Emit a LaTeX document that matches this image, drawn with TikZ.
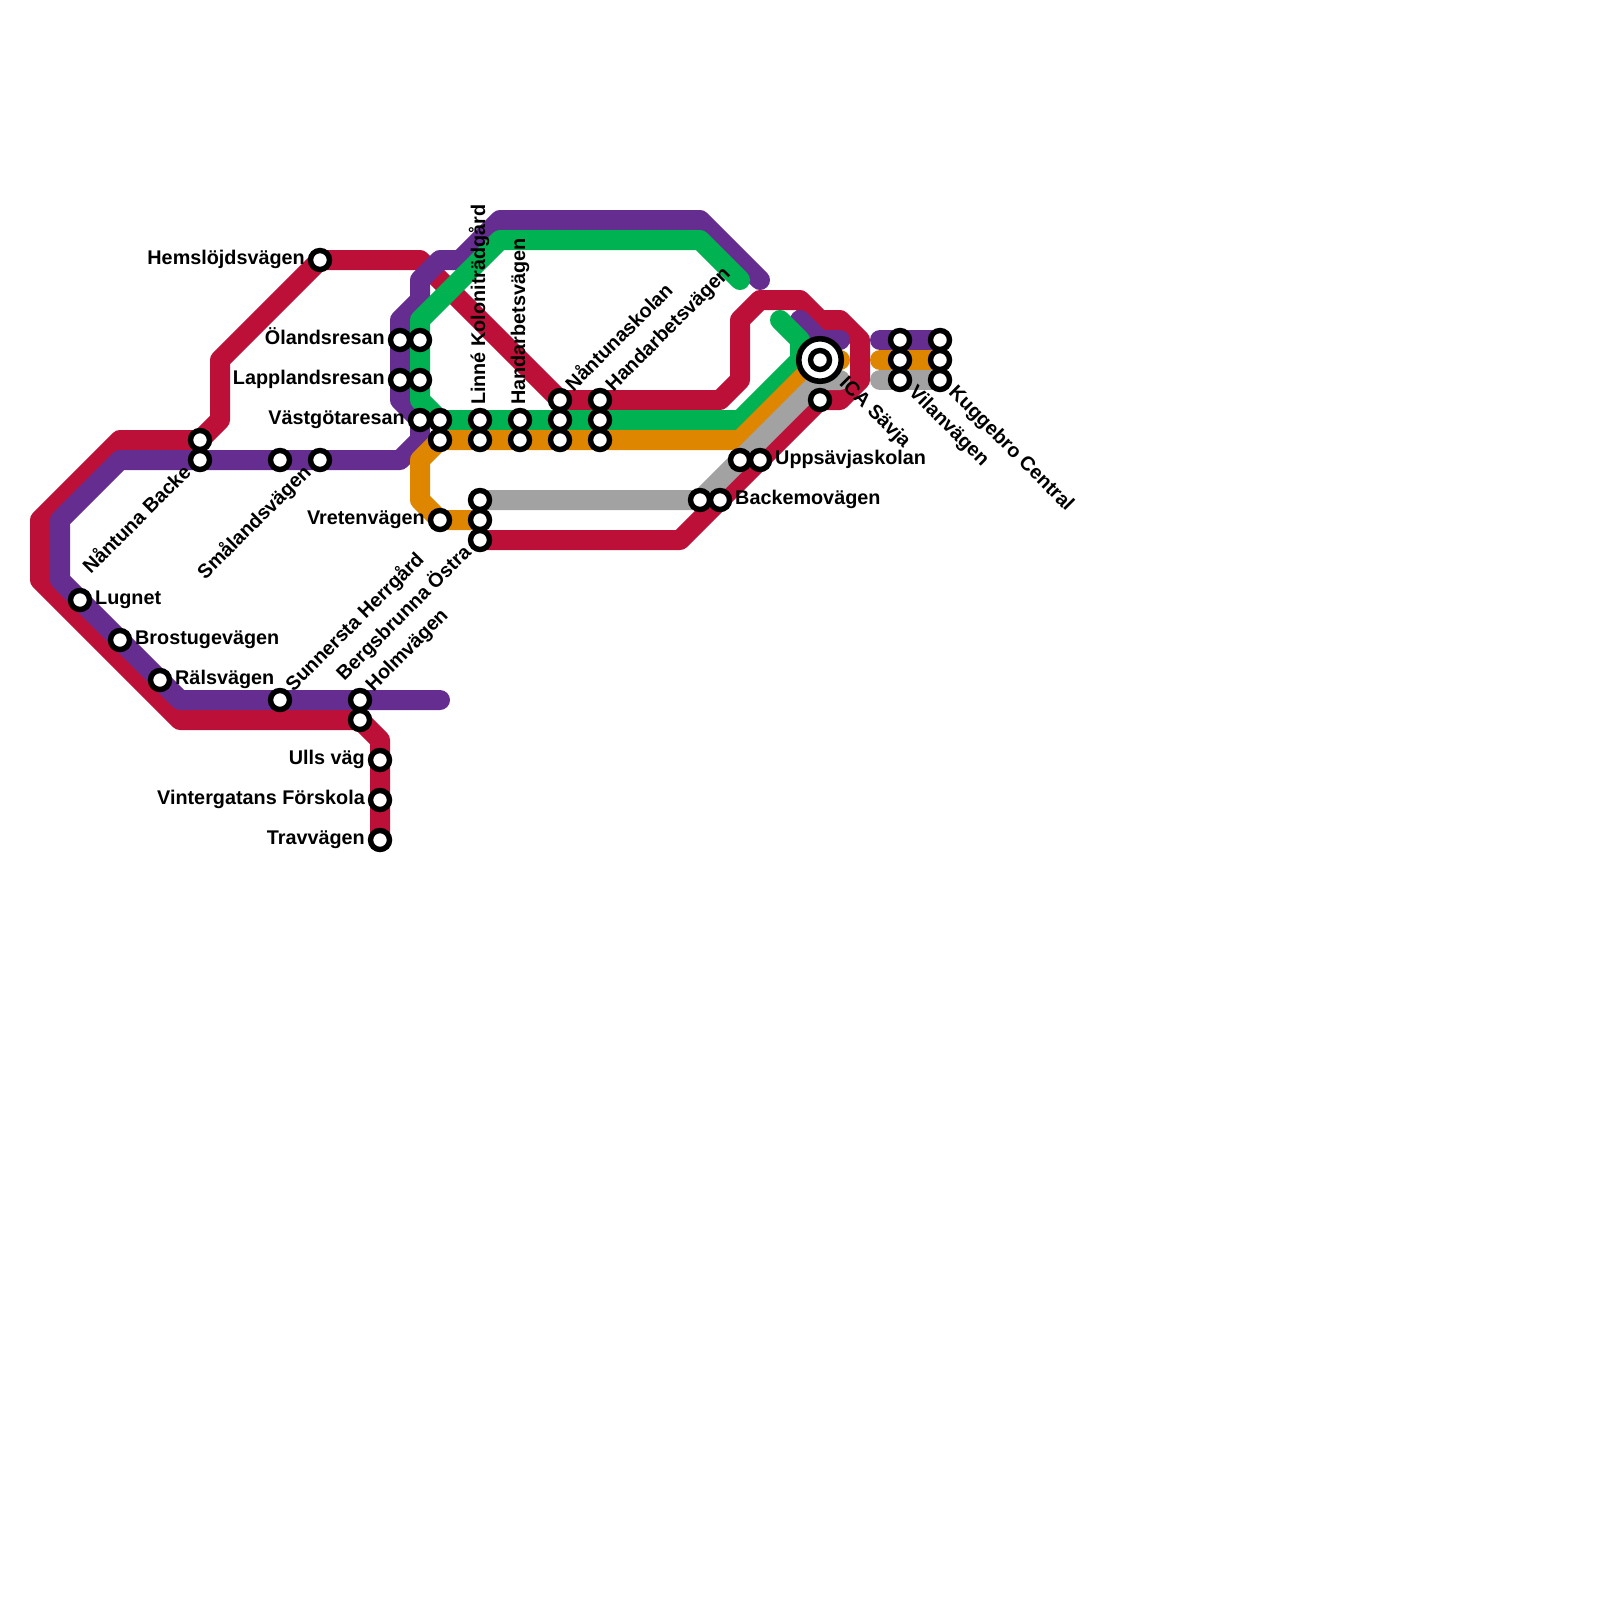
\documentclass[tikz,border=0pt]{standalone}
\usepackage{fontspec}
\setmainfont{Liberation Sans}
\usetikzlibrary{backgrounds}
\definecolor{linered}{HTML}{BD1038}
\definecolor{linepurple}{HTML}{662D91}
\definecolor{linegreen}{HTML}{00B251}
\definecolor{lineorange}{HTML}{DF8600}
\definecolor{linegray}{HTML}{A2A2A2}
\def \MinSize {19pt}
\def \BigSize {42.5pt}
\tikzstyle{station}=[
  draw=black,
  fill=white,
  circle,
  line width=5.4pt,
  inner sep=0pt,
  outer sep=0pt,
  minimum size=\MinSize
]
\tikzstyle{bigstation}=[
  station,
  line width=5.6pt,
  minimum size=\BigSize
]
\tikzstyle{metro}=[
  line width=20pt,
  line cap=round,
  line join=round
]
\tikzstyle{stopname}=[
  inner sep=0pt,
  font=\fontsize{19.8}{24}\selectfont\bfseries
]
\tikzstyle{nameright}=[stopname, anchor=base west, xshift=15pt, yshift=-4pt]
\tikzstyle{nameleft}=[stopname, anchor=base east, xshift=-15pt, yshift=-4pt]
\tikzstyle{nameup}=[stopname, anchor=base west, rotate=90, xshift=15pt, yshift=-5pt]
\tikzstyle{namerise}=[stopname, anchor=base west, rotate=45, xshift=15pt, yshift=-4pt]
\tikzstyle{namefall}=[stopname, anchor=base east, rotate=45, xshift=-15pt, yshift=-4pt]
\tikzstyle{namedrop}=[stopname, anchor=base west, rotate=-45, xshift=15pt, yshift=-4pt]

\begin{document}
\begin{tikzpicture}[x=1pt, y=-1pt]
  \useasboundingbox (0,0) rectangle (1600,1600);

  % stations
  \foreach \n/\x/\y in {lugnet/80/600, brostuge/120/640, rals/160/680,
    sunnersta/280/700, holm/360/700, holmb/360/720,
    ulls/380/760, vinter/380/800, trav/380/840,
    backe/200/460, backeb/200/440, smaland/320/460, smalandb/280/460,
    hemslojd/320/260, oland/400/340, olandb/420/340,
    lappland/400/380, lapplandb/420/380,
    vastgota/420/420, vastgotab/440/420, vastgotac/440/440,
    linne/480/420, linneb/480/440, handa/520/420, handab/520/440,
    skolan/560/400, skolanb/560/420, skolanc/560/440,
    handc/600/400, handcb/600/420, handcc/600/440,
    vreten/440/520, bergs/480/540, bergsb/480/520, bergsc/480/500,
    backemo/720/500, backemob/700/500, uppsavja/760/460, uppsavjab/740/460,
    icab/820/400,
    vilan/900/380, vilanb/900/360, vilanc/900/340,
    kugge/940/380, kuggeb/940/360, kuggec/940/340}{
    \node[station] (\n) at (\x,\y) {};
  }
  \node[bigstation] (ica) at (820,360) {};
  \node[station] (icain) at (ica) {};

  % bends
  \foreach \n/\x/\y in {r1/380/740, r2/180/720, r3/40/580, r4/40/520, r5/120/440,
    r6/220/420, r7/220/360, r8/420/260, r9/720/400, r10/740/380, r11/740/320,
    r12/760/300, r13/800/300, r14/820/320, r15/840/320, r16/860/340,
    r17/860/380, r18/840/400, r19/680/540,
    p1/440/700, p2/180/700, p3/60/580, p4/60/520, p5/120/460, p6/400/460,
    p7/420/440, p8/400/400, p9/400/320, p10/420/300, p11/420/280, p12/440/260,
    p13/460/260, p14/500/220, p15/700/220, p16/760/280,
    p17/800/320, p18/820/340, p19/840/340, p20/880/340,
    g1/740/280, g2/700/240, g3/500/240, g4/420/320, g5/420/400,
    g6/740/420, g7/800/360, g8/800/340, g9/780/320,
    o1/420/500, o2/420/460, o3/740/440, o4/840/360, o5/880/360,
    a1/820/380, a2/840/380, a3/880/380}{
    \coordinate (\n) at (\x,\y);
  }

  \begin{scope}[on background layer]
    \draw[metro, linered] (trav.center) -- (vinter.center) -- (ulls.center) -- (r1)
      -- (holmb.center) -- (r2) -- (r3) -- (r4) -- (r5) -- (backeb.center) -- (r6)
      -- (r7) -- (hemslojd.center) -- (r8) -- (skolan.center) -- (handc.center)
      -- (r9) -- (r10) -- (r11) -- (r12) -- (r13) -- (r14) -- (r15) -- (r16)
      -- (r17) -- (r18) -- (icab.center) -- (r19) -- (bergs.center);
    \draw[metro, linepurple] (p1) -- (holm.center) -- (sunnersta.center) -- (p2)
      -- (rals.center) -- (brostuge.center) -- (lugnet.center) -- (p3) -- (p4)
      -- (p5) -- (backe.center) -- (smalandb.center) -- (smaland.center) -- (p6)
      -- (p7) -- (vastgota.center) -- (p8) -- (lappland.center) -- (oland.center)
      -- (p9) -- (p10) -- (p11) -- (p12) -- (p13) -- (p14) -- (p15) -- (p16);
    \draw[metro, linepurple] (p17) -- (p18) -- (p19);
    \draw[metro, linepurple] (p20) -- (vilanc.center) -- (kuggec.center);
    \draw[metro, linegreen] (g1) -- (g2) -- (g3) -- (g4) -- (olandb.center)
      -- (lapplandb.center) -- (g5) -- (vastgotab.center) -- (linne.center)
      -- (handa.center) -- (skolanb.center) -- (handcb.center) -- (g6) -- (g7)
      -- (g8) -- (g9);
    \draw[metro, lineorange] (bergsb.center) -- (vreten.center) -- (o1) -- (o2)
      -- (vastgotac.center) -- (linneb.center) -- (handab.center)
      -- (skolanc.center) -- (handcc.center) -- (o3) -- (ica.center) -- (o4);
    \draw[metro, lineorange] (o5) -- (vilanb.center) -- (kuggeb.center);
    \draw[metro, linegray] (bergsc.center) -- (backemob.center)
      -- (uppsavjab.center) -- (a1) -- (a2);
    \draw[metro, linegray] (a3) -- (vilan.center) -- (kugge.center);
  \end{scope}

  % names
  \foreach \n/\txt in {lugnet/Lugnet, brostuge/Brostugevägen, rals/Rälsvägen,
    uppsavja/Uppsävjaskolan, backemo/Backemovägen}{
    \node[nameright] (\n name) at (\n) {\txt};
  }
  \foreach \n/\txt in {hemslojd/Hemslöjdsvägen, oland/Ölandsresan,
    lappland/Lapplandsresan, vastgota/Västgötaresan, vreten/Vretenvägen,
    ulls/Ulls väg, vinter/Vintergatans Förskola, trav/Travvägen}{
    \node[nameleft] (\n name) at (\n) {\txt};
  }
  \foreach \n/\txt in {linne/Linné Koloniträdgård, handa/Handarbetsvägen}{
    \node[nameup] (\n name) at (\n) {\txt};
  }
  \foreach \n/\txt in {sunnersta/Sunnersta Herrgård, holm/Holmvägen,
    skolan/Nåntunaskolan, handc/Handarbetsvägen}{
    \node[namerise] (\n name) at (\n) {\txt};
  }
  \foreach \n/\txt in {backe/Nåntuna Backe, smaland/Smålandsvägen,
    bergs/Bergsbrunna Östra}{
    \node[namefall] (\n name) at (\n) {\txt};
  }
  \foreach \n/\txt in {vilan/Vilanvägen, kugge/Kuggebro Central}{
    \node[namedrop] (\n name) at (\n) {\txt};
  }
  \node[namedrop, xshift=15pt] (icaname) at (ica) {ICA Sävja};
\end{tikzpicture}
\end{document}
